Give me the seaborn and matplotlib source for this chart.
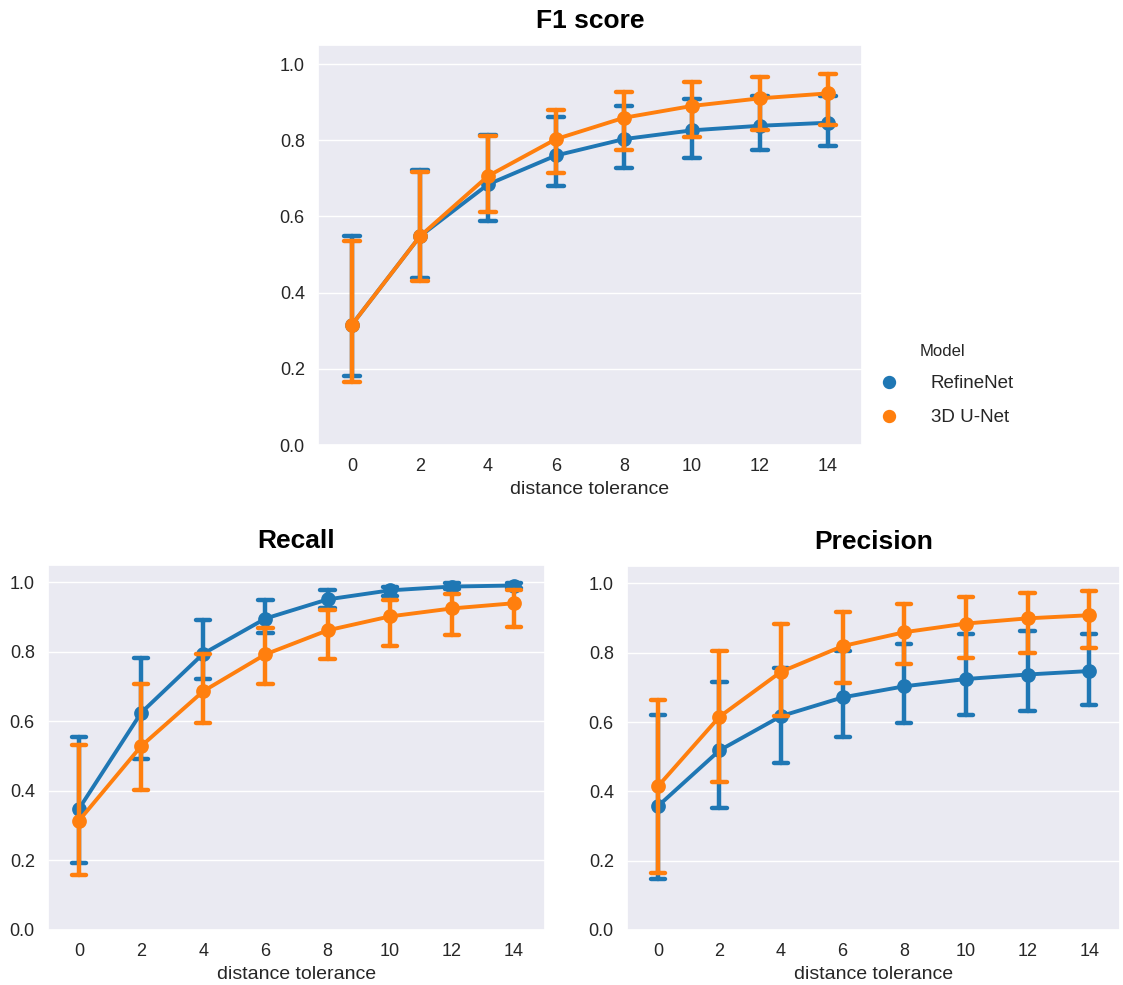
import numpy as np
import pandas as pd
import matplotlib
matplotlib.use("Agg")
import matplotlib.pyplot as plt
import seaborn as sns

tolerance = [0, 2, 4, 6, 8, 10, 12, 14]
models = ["RefineNet", "3D U-Net"]

# F1 score: mean, lower, upper
f1_refine_mean = [0.316, 0.548, 0.684, 0.760, 0.803, 0.826, 0.838, 0.846]
f1_refine_low = [0.182, 0.438, 0.589, 0.679, 0.727, 0.754, 0.774, 0.784]
f1_refine_high = [0.548, 0.722, 0.814, 0.861, 0.890, 0.908, 0.917, 0.915]
f1_unet_mean = [0.316, 0.548, 0.706, 0.803, 0.859, 0.890, 0.910, 0.923]
f1_unet_low = [0.165, 0.430, 0.611, 0.714, 0.775, 0.809, 0.827, 0.839]
f1_unet_high = [0.535, 0.717, 0.811, 0.879, 0.927, 0.952, 0.965, 0.975]

# Recall
rec_refine_mean = [0.349, 0.625, 0.795, 0.896, 0.951, 0.977, 0.988, 0.991]
rec_refine_low = [0.193, 0.491, 0.723, 0.853, 0.925, 0.960, 0.980, 0.985]
rec_refine_high = [0.556, 0.783, 0.893, 0.950, 0.978, 0.988, 0.997, 0.999]
rec_unet_mean = [0.315, 0.529, 0.687, 0.793, 0.862, 0.902, 0.925, 0.940]
rec_unet_low = [0.157, 0.403, 0.596, 0.708, 0.781, 0.817, 0.850, 0.873]
rec_unet_high = [0.531, 0.708, 0.795, 0.868, 0.920, 0.949, 0.966, 0.977]

# Precision
prec_refine_mean = [0.357, 0.518, 0.617, 0.671, 0.703, 0.724, 0.737, 0.747]
prec_refine_low = [0.147, 0.351, 0.482, 0.557, 0.596, 0.621, 0.631, 0.649]
prec_refine_high = [0.621, 0.714, 0.757, 0.805, 0.825, 0.853, 0.863, 0.855]
prec_unet_mean = [0.414, 0.615, 0.745, 0.819, 0.859, 0.884, 0.899, 0.908]
prec_unet_low = [0.165, 0.428, 0.618, 0.712, 0.768, 0.786, 0.799, 0.813]
prec_unet_high = [0.663, 0.805, 0.884, 0.918, 0.940, 0.961, 0.971, 0.977]


def build_frame(series):
    rows = []
    for model, (mean, low, high) in zip(models, series):
        for t, m, lo, hi in zip(tolerance, mean, low, high):
            for v in (lo, m, hi):
                rows.append({"distance tolerance": t, "Model": model, "score": v})
    return pd.DataFrame(rows)


df_f1 = build_frame([(f1_refine_mean, f1_refine_low, f1_refine_high),
                     (f1_unet_mean, f1_unet_low, f1_unet_high)])
df_rec = build_frame([(rec_refine_mean, rec_refine_low, rec_refine_high),
                      (rec_unet_mean, rec_unet_low, rec_unet_high)])
df_prec = build_frame([(prec_refine_mean, prec_refine_low, prec_refine_high),
                       (prec_unet_mean, prec_unet_low, prec_unet_high)])

sns.set_theme(style="darkgrid")
plt.rcParams["font.family"] = ["Liberation Sans", "DejaVu Sans"]

fig = plt.figure(figsize=(11.23, 9.85), dpi=100)
W, H = 1123, 985


def axes_px(l, t, r, b):
    return fig.add_axes([l / W, 1 - b / H, (r - l) / W, (b - t) / H])


ax_f1 = axes_px(318, 45, 862, 445)
ax_rec = axes_px(48, 565, 545, 930)
ax_prec = axes_px(627, 566, 1120, 930)

palette = ["#1f77b4", "#ff7f0e"]


def draw(ax, df, title, legend):
    sns.pointplot(data=df, x="distance tolerance", y="score", hue="Model",
                  hue_order=models, order=tolerance, palette=palette,
                  estimator="median", errorbar=("pi", 100), capsize=0.23,
                  dodge=False, ax=ax, legend=legend,
                  markersize=8.5, linewidth=2.8,
                  err_kws={"linewidth": 3.2, "solid_capstyle": "round"})
    ax.set_ylim(0, 1.05)
    ax.set_yticks([0.0, 0.2, 0.4, 0.6, 0.8, 1.0])
    ax.set_ylabel("")
    ax.set_title(title, fontsize=19, fontweight="bold", pad=12, color="black")
    ax.tick_params(axis="both", labelsize=13, colors=".15")
    ax.xaxis.label.set_size(14)


draw(ax_f1, df_f1, "F1 score", True)
draw(ax_rec, df_rec, "Recall", False)
draw(ax_prec, df_prec, "Precision", False)

handles, labels = ax_f1.get_legend_handles_labels()
for h in handles:
    try:
        h.set_linestyle("none")
        h.set_markersize(7.5)
    except Exception:
        pass
ax_f1.legend(handles=handles, labels=labels, title="Model",
             loc="center left", bbox_to_anchor=(0.985, 0.15), frameon=False,
             fontsize=13.5, title_fontsize=12, labelspacing=0.9,
             handletextpad=1.2)

fig.savefig("out.png", dpi=100)
